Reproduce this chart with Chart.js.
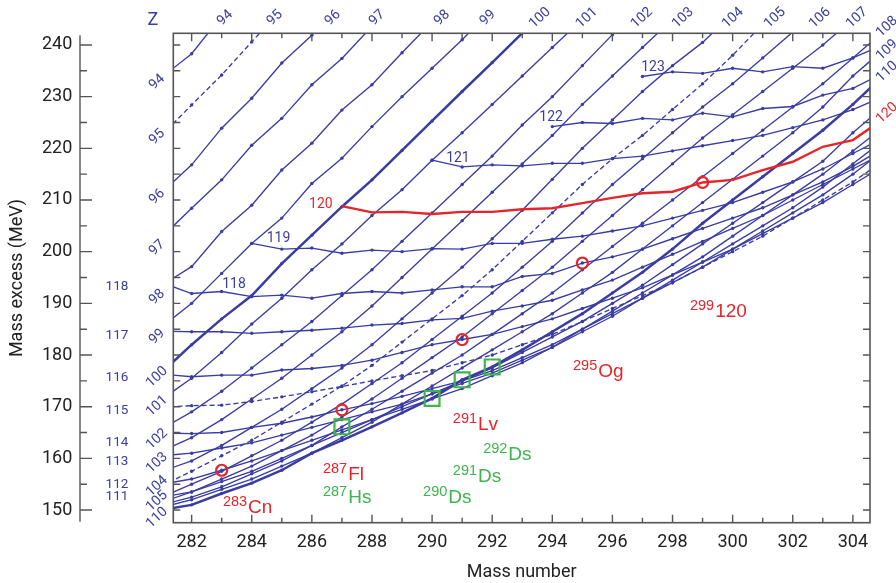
<!DOCTYPE html>
<html>
<head>
<meta charset="utf-8">
<script src="https://cdn.jsdelivr.net/npm/chart.js@4.4.1/dist/chart.umd.min.js"></script>
<style>
  html, body { margin: 0; padding: 0; background: #fff; }
</style>
</head>
<body>
<canvas id="chartMass" width="896" height="583"></canvas>
<script>
// Mass numbers (x) shared by every isotopic chain
const massNumbers = [281, 282, 283, 284, 285, 286, 287, 288, 289, 290, 291, 292, 293,
                     294, 295, 296, 297, 298, 299, 300, 301, 302, 303, 304, 305];
// Tick labels
const massTicks = [282, 284, 286, 288, 290, 292, 294, 296, 298, 300, 302, 304];
const excessTicks = [150, 160, 170, 180, 190, 200, 210, 220, 230, 240];
const frameMassTicks = [282, 283, 284, 285, 286, 287, 288, 289, 290, 291, 292, 293, 294,
                        295, 296, 297, 298, 299, 300, 301, 302, 303, 304];
const frameExcessTicks = [150, 155, 160, 165, 170, 175, 180, 185, 190, 195, 200, 205,
                          210, 215, 220, 225, 230, 235, 240];

// Mass excess (MeV) per chain, aligned with massNumbers (null = not shown)
const z094 = [233.7, 238.3, 245.6];
const z095 = [222.5, 228.4, 234.2, 240.6, 247.0];
const z096 = [211.4, 216.8, 223.9, 229.7, 236.5, 241.9, 248.0];
const z097 = [202.8, 208.4, 213.9, 220.6, 225.8, 232.3, 237.4, 243.6];
const z098 = [193.5, 197.1, 203.9, 209.0, 215.8, 221.0, 227.4, 232.3, 238.5, 244.5];
const z099 = [185.4, 190.0, 195.8, 201.6, 206.5, 213.2, 218.1, 224.2, 230.0, 235.5, 241.0, 247.0];
const z100 = [176.6, 182.0, 187.0, 191.5, 197.7, 203.2, 208.7, 213.9, 219.6, 225.3, 231.0, 236.6, 242.3, 248.0];
const z101 = [171.4, 175.5, 180.5, 186.0, 191.0, 196.5, 201.5, 207.0, 212.0, 217.7, 223.0, 228.5, 234.0, 239.5, 245.0];
const z102 = [165.7, 169.0, 173.0, 177.5, 182.0, 186.5, 191.5, 196.5, 202.0, 207.5, 213.0, 218.5, 224.5, 230.0, 236.0, 242.0, 248.0];
const z103 = [161.4, 164.0, 167.5, 171.5, 175.5, 180.0, 184.5, 189.5, 195.0, 200.5, 206.0, 211.5, 217.0, 222.5, 228.5, 234.0, 239.5, 245.0];
const z104 = [157.5, 159.5, 162.5, 166.0, 169.5, 173.5, 177.5, 182.0, 187.0, 192.0, 197.0, 202.5, 208.0, 214.0, 220.0, 225.5, 231.0, 236.0, 240.5, 246.0];
const z105 = [154.7, 157.5, 160.5, 163.5, 167.0, 170.5, 174.0, 178.0, 182.5, 187.0, 191.5, 196.5, 202.0, 207.5, 213.0, 218.0, 222.5, 227.5, 232.5, 238.0, 244.0];
const z106 = [152.5, 155.0, 157.5, 160.5, 163.5, 167.0, 170.5, 174.5, 178.5, 183.0, 187.5, 192.0, 197.0, 202.0, 207.5, 213.0, 218.0, 223.0, 228.0, 232.5, 237.5, 242.5, 248.0];
const z107 = [151.5, 153.5, 156.0, 158.5, 161.5, 164.5, 168.0, 171.5, 175.5, 179.5, 183.5, 188.0, 192.5, 197.0, 202.0, 207.0, 212.0, 217.0, 222.0, 226.5, 231.0, 235.5, 240.0, 245.0];
const z108 = [151.0, 152.5, 154.5, 157.0, 159.5, 162.5, 166.1, 169.5, 173.0, 176.5, 180.0, 184.0, 188.0, 192.0, 196.5, 201.0, 205.5, 210.0, 214.5, 219.0, 223.5, 228.0, 232.5, 237.5, 242.5];
const z109 = [150.5, 152.0, 154.0, 156.0, 158.5, 161.0, 164.0, 167.0, 170.5, 174.0, 177.5, 181.0, 184.5, 188.0, 192.0, 196.0, 200.5, 205.0, 209.5, 214.0, 218.5, 223.0, 228.0, 234.0, 239.0];
const z110 = [150.0, 151.0, 153.2, 155.2, 157.7, 161.0, 163.5, 166.1, 168.8, 171.6, 175.2, 177.7, 181.0, 184.5, 188.0, 192.0, 196.0, 200.5, 205.5, 210.0, 214.5, 219.0, 223.5, 228.5, 234.0];
const z111 = [152.5, 153.5, 155.5, 157.5, 160.0, 162.5, 165.0, 167.5, 170.0, 172.5, 175.0, 177.5, 180.5, 183.5, 186.5, 190.0, 193.5, 197.5, 201.5, 205.5, 209.5, 213.5, 217.5, 223.0, 228.0];
const z112 = [155.0, 156.0, 157.7, 159.5, 161.5, 163.5, 165.5, 167.5, 169.5, 171.5, 173.5, 176.0, 178.5, 181.5, 185.0, 188.5, 192.0, 195.5, 199.0, 203.0, 207.0, 211.0, 215.0, 219.5, 224.0];
const z113 = [160.5, 161.0, 162.0, 163.0, 164.5, 166.0, 167.5, 169.0, 170.5, 172.5, 174.5, 176.5, 179.0, 181.5, 184.5, 187.5, 191.0, 194.5, 198.0, 201.5, 205.0, 208.5, 212.5, 217.0, 221.5];
const z114 = [164.9, 164.8, 165.0, 166.0, 166.8, 168.0, 169.4, 170.6, 172.0, 173.5, 175.0, 177.0, 179.5, 182.0, 185.0, 188.0, 191.0, 194.0, 197.0, 200.5, 204.0, 207.5, 211.0, 215.0, 219.5];
const z115 = [169.9, 170.2, 170.3, 171.0, 171.9, 172.9, 173.9, 175.0, 176.0, 177.0, 178.5, 180.0, 182.0, 184.0, 186.5, 189.0, 191.5, 194.0, 197.0, 200.0, 203.0, 206.5, 210.0, 213.5, 217.5];
const z116 = [176.3, 175.8, 176.1, 176.1, 177.1, 177.4, 178.0, 179.0, 180.5, 182.0, 183.0, 184.0, 185.5, 187.0, 189.0, 191.0, 193.0, 195.5, 198.0, 200.5, 203.5, 206.5, 209.5, 213.0, 216.5];
const z117 = [184.6, 184.5, 184.5, 184.2, 184.5, 184.8, 185.2, 185.8, 186.1, 186.8, 187.1, 188.5, 189.5, 190.6, 192.6, 194.5, 197.0, 199.5, 202.0, 204.5, 207.0, 210.0, 213.0, 216.0, 219.0];
const z118 = [194.0, 191.9, 192.3, 191.3, 191.6, 191.0, 191.9, 192.3, 192.0, 192.6, 193.2, 193.2, 195.2, 195.8, 197.8, 199.0, 200.5, 202.5, 204.5, 206.5, 208.5, 211.0, 213.5, 216.5, 220.0];
const z119 = [null, null, null, 201.6, 200.5, 200.7, 199.7, 200.3, 200.0, 200.6, 200.5, 201.6, 201.6, 202.4, 203.0, 204.0, 205.0, 206.5, 208.0, 209.5, 211.5, 213.5, 216.0, 219.0, 222.0];
const z120 = [null, null, null, null, null, null, 208.8, 207.6, 207.7, 207.3, 207.7, 207.7, 208.2, 208.4, 209.4, 210.4, 211.3, 211.6, 213.4, 213.9, 215.8, 217.4, 220.3, 221.6, 225.6];
const z121 = [null, null, null, null, null, null, null, null, null, 217.7, 216.4, 216.8, 216.6, 217.1, 217.1, 218.0, 218.5, 219.5, 220.5, 221.5, 222.5, 224.0, 225.5, 227.5, 230.0];
const z122 = [null, null, null, null, null, null, null, null, null, null, null, null, null, 224.2, 225.0, 224.8, 225.8, 225.5, 226.8, 226.1, 227.7, 228.1, 230.3, 231.6, 234.5];
const z123 = [null, null, null, null, null, null, null, null, null, null, null, null, null, null, null, null, 233.9, 234.8, 234.5, 235.5, 234.8, 235.8, 235.5, 237.5, 240.0];

// Decay chain of 299(120) (red circles) and Hs/Ds nuclei (green squares)
const decayMass = [283, 287, 291, 295, 299];
const decayExcess = [157.7, 169.4, 183.0, 197.8, 213.4];
const knownMass = [287, 290, 291, 292];
const knownExcess = [166.1, 171.6, 175.2, 177.7];

const chainZ = [94, 95, 96, 97, 98, 99, 100, 101, 102, 103, 104, 105, 106, 107, 108,
                109, 110, 111, 112, 113, 114, 115, 116, 117, 118, 119, 120, 121, 122, 123];
const chainValues = [z094, z095, z096, z097, z098, z099, z100, z101, z102, z103, z104, z105,
                     z106, z107, z108, z109, z110, z111, z112, z113, z114, z115, z116, z117,
                     z118, z119, z120, z121, z122, z123];

const blue = '#3a3ca2';
const red = '#e4262b';
const green = '#3db54a';
const axisFont = 'Roboto, "DejaVu Sans", sans-serif';
const labelFont = '"Liberation Sans", Arial, sans-serif';

function toPoints(values) {
    return values
        .map((v, i) => (v == null ? null : { x: massNumbers[i], y: v }))
        .filter(Boolean);
}

const datasets = [];

// marqueurs par-dessus (order bas = dessiné en dernier)
datasets.push({
    data: decayMass.map((m, i) => ({ x: m, y: decayExcess[i] })),
    pointStyle: 'circle',
    pointRadius: 5.5,
    pointBorderColor: red,
    pointBorderWidth: 2.2,
    pointBackgroundColor: 'rgba(0,0,0,0)',
    showLine: false,
    order: 0,
});
datasets.push({
    data: knownMass.map((m, i) => ({ x: m, y: knownExcess[i] })),
    pointStyle: 'rect',
    pointRadius: 10.5,
    pointBorderColor: green,
    pointBorderWidth: 2.2,
    pointBackgroundColor: 'rgba(0,0,0,0)',
    showLine: false,
    order: 0,
});

chainZ.forEach((z, k) => {
    const isRed = z === 120;
    const thick = z % 10 === 0;
    const dashed = z % 10 === 5;
    datasets.push({
        data: toPoints(chainValues[k]),
        showLine: true,
        borderColor: isRed ? red : blue,
        borderWidth: isRed ? 2.4 : (thick ? 2.5 : 1.35),
        borderDash: dashed ? [5, 3] : [],
        pointRadius: isRed ? 0 : 1.7,
        pointBackgroundColor: blue,
        pointBorderWidth: 0,
        tension: 0,
        order: isRed ? 1 : 2,
    });
});

// Étiquettes (positions en coordonnées des axes)
const leftZ = [[94, 232.8], [95, 222.2], [96, 210.6], [97, 200.7], [98, 191.2], [99, 183.5],
               [100, 175.7], [101, 170.1], [102, 163.7], [103, 159.1], [104, 154.6], [105, 151.7], [110, 148.5]];
const topZ = [[94, 283.11], [95, 284.77], [96, 286.7], [97, 288.17], [98, 290.33], [99, 291.86],
              [100, 293.59], [101, 295.15], [102, 296.98], [103, 298.35], [104, 300.01], [105, 301.41],
              [106, 302.91], [107, 304.14]];
const rightZ = [[108, 243.5], [109, 239.0], [110, 234.8]];
const outerZ = [[118, 193.2], [117, 183.7], [116, 175.7], [115, 169.2], [114, 163.0], [113, 159.3],
                [112, 155.0], [111, 152.5]];
const innerZ = [[118, 283.41, 193.7], [119, 284.89, 202.5], [121, 290.86, 218.1],
                [122, 293.96, 225.9], [123, 297.35, 235.7]];
const isotopes = [
    ['283', 'Cn', 283.04, 149.4, red],
    ['287', 'Fl', 286.37, 155.8, red],
    ['287', 'Hs', 286.37, 151.4, green],
    ['291', 'Lv', 290.69, 165.5, red],
    ['292', 'Ds', 291.7, 159.7, green],
    ['291', 'Ds', 290.69, 155.4, green],
    ['290', 'Ds', 289.7, 151.4, green],
    ['295', 'Og', 294.69, 175.75, red],
    ['299', '120', 298.58, 187.4, red],
];

function drawText(ctx, s, px, py, color, font, angle) {
    ctx.save();
    ctx.translate(px, py);
    if (angle) ctx.rotate(angle);
    ctx.fillStyle = color;
    ctx.font = font;
    ctx.textAlign = 'center';
    ctx.textBaseline = 'middle';
    ctx.fillText(s, 0, 0);
    ctx.restore();
}

const annotate = {
    id: 'annotate',
    afterDraw(chart) {
        const { ctx, chartArea: a, scales: { x, y } } = chart;
        ctx.save();
        // cadre + graduations intérieures
        ctx.strokeStyle = '#555';
        ctx.lineWidth = 1.6;
        ctx.strokeRect(a.left, a.top, a.right - a.left, a.bottom - a.top);
        ctx.lineWidth = 1.4;
        ctx.beginPath();
        frameMassTicks.forEach((v) => {
            const px = x.getPixelForValue(v);
            const len = v % 2 === 0 ? 8 : 5;
            ctx.moveTo(px, a.bottom);
            ctx.lineTo(px, a.bottom - len);
            ctx.moveTo(px, a.top);
            ctx.lineTo(px, a.top + len);
        });
        frameExcessTicks.forEach((v) => {
            const py = y.getPixelForValue(v);
            ctx.moveTo(a.left, py);
            ctx.lineTo(a.left + 7, py);
            ctx.moveTo(a.right, py);
            ctx.lineTo(a.right - 7, py);
        });
        ctx.stroke();

        // axe vertical détaché à gauche
        const ax = 80;
        ctx.beginPath();
        ctx.moveTo(ax, a.top + 2);
        ctx.lineTo(ax, a.bottom - 1);
        frameExcessTicks.forEach((v) => {
            const py = y.getPixelForValue(v);
            ctx.moveTo(ax, py);
            ctx.lineTo(ax + (v % 10 === 0 ? 12 : 7), py);
        });
        ctx.stroke();

        const slant = -0.75;
        const zFont = '14px ' + axisFont;
        leftZ.forEach(([z, v]) => drawText(ctx, String(z), 157, y.getPixelForValue(v), blue, zFont, slant));
        topZ.forEach(([z, m]) => drawText(ctx, String(z), x.getPixelForValue(m), 18, blue, zFont, slant));
        rightZ.forEach(([z, v]) => drawText(ctx, String(z), 887, y.getPixelForValue(v), blue, zFont, slant));
        drawText(ctx, '120', 887, y.getPixelForValue(226.8), red, zFont, slant);
        outerZ.forEach(([z, v]) => drawText(ctx, String(z), 117, y.getPixelForValue(v), blue, '13.5px ' + axisFont));
        innerZ.forEach(([z, m, v]) => drawText(ctx, String(z), x.getPixelForValue(m), y.getPixelForValue(v), blue, '14px ' + axisFont));
        drawText(ctx, '120', x.getPixelForValue(286.3), y.getPixelForValue(209.2), red, '14px ' + axisFont);
        drawText(ctx, 'Z', 153, 20, blue, '18px ' + axisFont);

        // noms des noyaux avec nombre de masse en exposant
        isotopes.forEach(([sup, name, m, v, color]) => {
            const px = x.getPixelForValue(m);
            const py = y.getPixelForValue(v);
            ctx.fillStyle = color;
            ctx.textAlign = 'left';
            ctx.textBaseline = 'alphabetic';
            ctx.font = '14.5px ' + labelFont;
            ctx.fillText(sup, px, py - 7);
            const w = ctx.measureText(sup).width;
            ctx.font = '19px ' + labelFont;
            ctx.fillText(name, px + w + 1, py);
        });
        ctx.restore();
    },
};

const ctxMass = document.getElementById('chartMass').getContext('2d');
const chartMass = new Chart(ctxMass, {
    type: 'scatter',
    data: { datasets },
    options: {
        responsive: false,
        animation: false,
        events: [],
        layout: { padding: { left: 0, right: 26, top: 33.3, bottom: 0 } },
        plugins: {
            legend: { display: false },
            tooltip: { enabled: false },
        },
        scales: {
            x: {
                type: 'linear',
                min: 281.39,
                max: 304.57,
                grid: { display: false, drawTicks: false },
                border: { display: false },
                afterBuildTicks: (s) => { s.ticks = massTicks.map((v) => ({ value: v })); },
                afterFit: (s) => {
                    s.height = 60.3;
                    s.paddingLeft = 0;
                    s.paddingRight = 0;
                },
                ticks: {
                    padding: 9,
                    color: '#222',
                    autoSkip: false,
                    maxRotation: 0,
                    font: { family: axisFont, size: 18 },
                },
                title: {
                    display: true,
                    text: 'Mass number',
                    color: '#222',
                    padding: { top: 0, bottom: 0 },
                    font: { family: axisFont, size: 18 },
                },
            },
            y: {
                type: 'linear',
                min: 147.55,
                max: 242.26,
                grid: { display: false, drawTicks: false },
                border: { display: false },
                afterBuildTicks: (s) => { s.ticks = excessTicks.map((v) => ({ value: v })); },
                afterFit: (s) => {
                    s.width = 173.3;
                    s.paddingTop = 0;
                    s.paddingBottom = 0;
                },
                ticks: {
                    padding: 101,
                    color: '#222',
                    font: { family: axisFont, size: 18 },
                },
                title: {
                    display: true,
                    text: 'Mass excess (MeV)',
                    color: '#222',
                    padding: { top: 7, bottom: 0 },
                    font: { family: axisFont, size: 18 },
                },
            },
        },
    },
    plugins: [annotate],
});
</script>
</body>
</html>
